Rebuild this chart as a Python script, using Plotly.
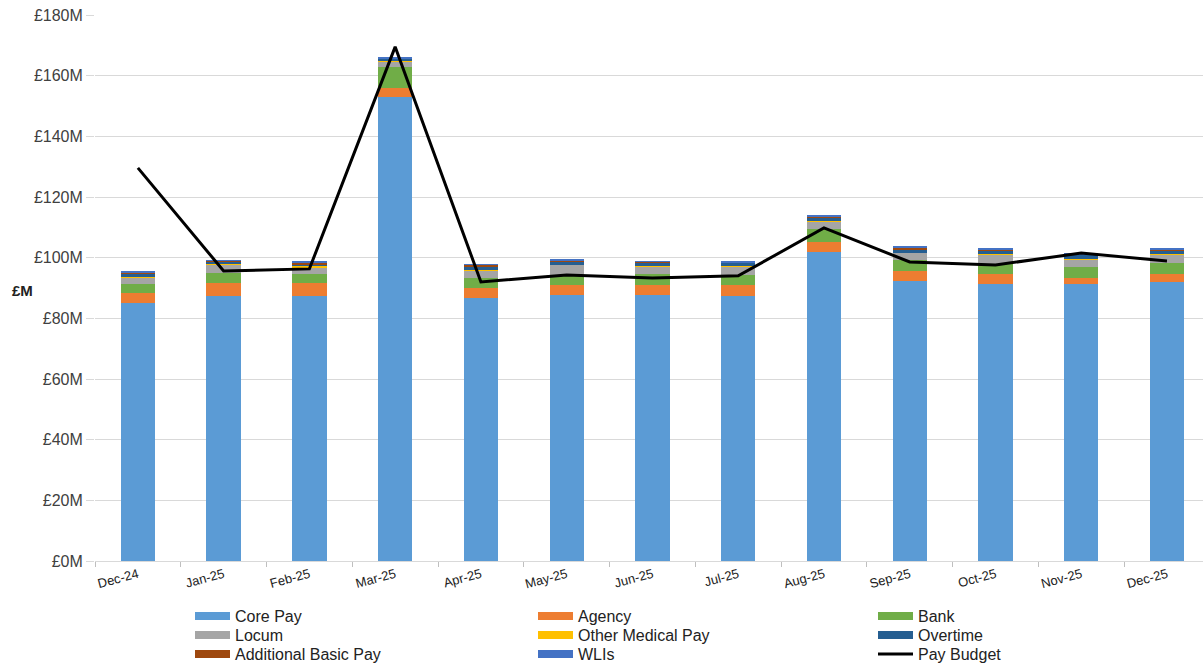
import plotly.graph_objects as go

months = ["Dec-24", "Jan-25", "Feb-25", "Mar-25", "Apr-25", "May-25", "Jun-25",
          "Jul-25", "Aug-25", "Sep-25", "Oct-25", "Nov-25", "Dec-25"]

core_pay = [85.0, 87.5, 87.5, 153.1, 86.8, 87.7, 87.7, 87.5, 102.0, 92.3, 91.2, 91.2, 91.9]
agency = [3.3, 4.1, 4.1, 2.8, 3.3, 3.3, 3.3, 3.5, 3.3, 3.3, 3.3, 2.2, 2.6]
bank = [3.0, 3.3, 3.0, 7.1, 3.3, 3.3, 3.5, 3.3, 4.1, 3.6, 3.3, 3.6, 3.6]
locum = [2.2, 3.0, 2.3, 1.6, 2.5, 3.3, 2.5, 2.7, 2.5, 2.4, 3.4, 2.5, 3.0]
other_medical = [0.2, 0.1, 0.2, 0.3, 0.2, 0.1, 0.1, 0.4, 0.2, 0.1, 0.1, 0.1, 0.1]
overtime = [1.0, 0.8, 0.8, 0.6, 0.9, 1.0, 1.2, 0.9, 1.1, 1.1, 1.1, 1.5, 1.0]
additional_basic = [0.3, 0.1, 0.4, 0.3, 0.6, 0.2, 0.3, 0.2, 0.3, 0.4, 0.4, 0.1, 0.4]
wlis = [0.3, 0.3, 0.3, 0.3, 0.3, 0.4, 0.3, 0.3, 0.4, 0.5, 0.3, 0.5, 0.6]
pay_budget = [129.6, 95.6, 96.3, 169.5, 92.0, 94.3, 93.3, 94.0, 109.8, 98.6, 97.6, 101.5, 98.9]

y_ticks = [0, 20, 40, 60, 80, 100, 120, 140, 160, 180]
y_tick_text = ["£0M", "£20M", "£40M", "£60M", "£80M", "£100M", "£120M", "£140M", "£160M", "£180M"]

series = [
    ("Core Pay", core_pay, "#5B9BD5"),
    ("Agency", agency, "#ED7D31"),
    ("Bank", bank, "#70AD47"),
    ("Locum", locum, "#A5A5A5"),
    ("Other Medical Pay", other_medical, "#FFC000"),
    ("Overtime", overtime, "#255E91"),
    ("Additional Basic Pay", additional_basic, "#9E480E"),
    ("WLIs", wlis, "#4472C4"),
]

W, H = 1203, 666
ML, MR, MT, MB = 95, 0, 15, 105
PW, PH = W - ML - MR, H - MT - MB

fig = go.Figure()
for name, vals, col in series:
    fig.add_trace(go.Bar(x=months, y=vals, name=name, marker=dict(color=col, line=dict(width=0)),
                         width=0.4))
fig.add_trace(go.Scatter(x=months, y=pay_budget, name="Pay Budget", mode="lines",
                         line=dict(color="black", width=3)))

# Manual legend laid out in a 3-column grid (like the original)
legend_items = [(n, c, "bar") for n, _, c in series] + [("Pay Budget", "black", "line")]
col_x = [195, 538, 878]
row_y = [616, 635, 654]
shapes = []
annotations = []
def px_x(p):
    return (p - ML) / PW
def px_y(p):
    return (H - MB - p) / PH
for i, (name, col, kind) in enumerate(legend_items):
    r, c = divmod(i, 3)
    x0 = col_x[c]
    yc = row_y[r]
    if kind == "bar":
        shapes.append(dict(type="rect", xref="paper", yref="paper",
                           x0=px_x(x0), x1=px_x(x0 + 35), y0=px_y(yc + 4), y1=px_y(yc - 4),
                           fillcolor=col, line=dict(width=0), layer="above"))
    else:
        shapes.append(dict(type="line", xref="paper", yref="paper",
                           x0=px_x(x0), x1=px_x(x0 + 35), y0=px_y(yc), y1=px_y(yc),
                           line=dict(color=col, width=3), layer="above"))
    annotations.append(dict(text=name, xref="paper", yref="paper", x=px_x(x0 + 38), y=px_y(yc),
                            xanchor="left", yanchor="middle", showarrow=False,
                            font=dict(size=16, color="#222222")))

annotations.append(dict(text="<b>£M</b>", xref="paper", yref="paper", x=-0.077, y=0.495,
                        xanchor="left", yanchor="middle", showarrow=False,
                        font=dict(size=15, color="#222222")))

fig.update_layout(
    barmode="stack",
    width=W, height=H,
    margin=dict(l=ML, r=MR, t=MT, b=MB, autoexpand=False),
    paper_bgcolor="white", plot_bgcolor="white",
    font=dict(family="Liberation Sans, Arial", size=13, color="#404040"),
    showlegend=False,
    xaxis=dict(range=[-0.5, 12.42], tickangle=-15, ticks="outside", tickson="boundaries",
               ticklen=5, tickcolor="#BFBFBF", showline=True, linecolor="#D9D9D9",
               tickfont=dict(size=13, color="#222222"), showgrid=False),
    yaxis=dict(range=[0, 180], tickmode="array", tickvals=y_ticks, ticktext=y_tick_text,
               showgrid=True, gridcolor="#D9D9D9", gridwidth=1, zeroline=False,
               ticks="outside", ticklen=8, tickcolor="#D9D9D9",
               tickfont=dict(size=16, color="#404040")),
    shapes=shapes,
    annotations=annotations,
)

fig.write_html("out.html")
